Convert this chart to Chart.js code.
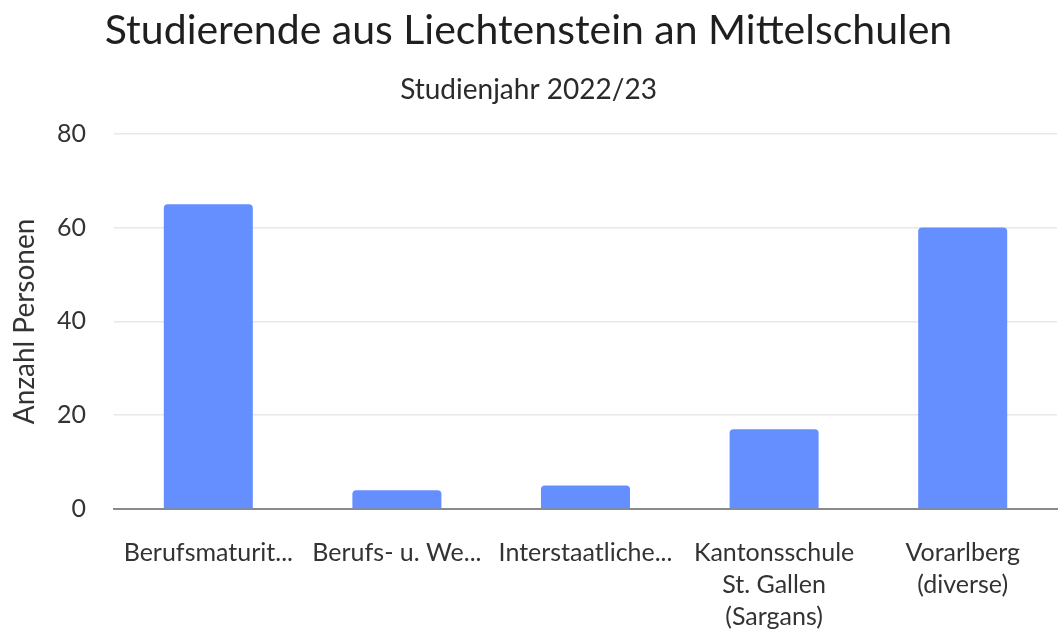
<!DOCTYPE html>
<html>
<head>
<meta charset="utf-8">
<script src="https://cdn.jsdelivr.net/npm/chart.js@4"></script>
<style>
  body { margin: 0; background: #fff; }
  canvas { display: block; }
</style>
</head>
<body>
<canvas id="chart" width="1058" height="629"></canvas>
<script>
const categories = [
  "Berufsmaturit...",
  "Berufs- u. We...",
  "Interstaatliche...",
  ["Kantonsschule", "St. Gallen", "(Sargans)"],
  ["Vorarlberg", "(diverse)"],
];
const persons = [65, 4, 5, 17, 60];
const yTicks = [0, 20, 40, 60, 80];

const font = "Lato";

new Chart(document.getElementById("chart"), {
  type: "bar",
  data: {
    labels: categories,
    datasets: [
      {
        label: "Anzahl Personen",
        data: persons,
        backgroundColor: "#658ffe",
        borderRadius: { topLeft: 4, topRight: 4 },
        borderSkipped: "bottom",
        categoryPercentage: 1,
        barPercentage: 0.472,
      },
    ],
  },
  options: {
    responsive: false,
    animation: false,
    layout: { padding: { left: 0, right: 1, top: 0, bottom: 0 } },
    plugins: {
      legend: { display: false },
      tooltip: { enabled: false },
      title: {
        display: true,
        text: "Studierende aus Liechtenstein an Mittelschulen",
        color: "#1f1f1f",
        font: { family: font, size: 41, weight: "normal" },
        padding: { top: 6, bottom: 18 },
      },
      subtitle: {
        display: true,
        text: "Studienjahr 2022/23",
        color: "#2a2a2a",
        font: { family: font, size: 28 },
        padding: { top: 0, bottom: 27 },
      },
    },
    scales: {
      x: {
        grid: { display: false },
        border: { display: true, color: "#8a8a8a", width: 2 },
        ticks: {
          color: "#333",
          font: { family: font, size: 25, lineHeight: 1.28 },
          padding: 20,
          maxRotation: 0,
          autoSkip: false,
        },
        afterFit: (scale) => { scale.height = 120; },
      },
      y: {
        min: yTicks[0],
        max: yTicks[yTicks.length - 1],
        afterBuildTicks: (scale) => {
          scale.ticks = yTicks.map((v) => ({ value: v }));
        },
        grid: { color: "#e8e8e8", lineWidth: 1.5, drawTicks: false },
        border: { display: false },
        ticks: {
          color: "#333",
          font: { family: font, size: 25 },
          padding: 28,
        },
        title: {
          display: true,
          text: "Anzahl Personen",
          color: "#333",
          font: { family: font, size: 28 },
          padding: { top: 8, bottom: 0 },
        },
        afterFit: (scale) => { scale.width = 114; },
      },
    },
  },
});
</script>
</body>
</html>
